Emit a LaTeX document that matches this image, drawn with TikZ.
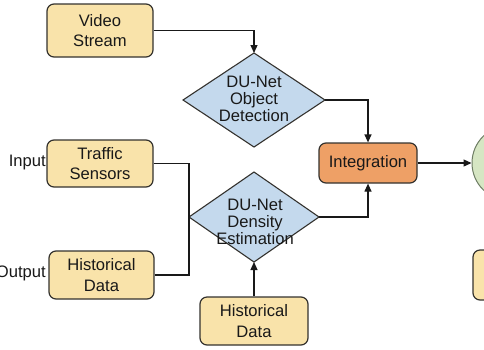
\documentclass[tikz,border=0pt]{standalone}
\usepackage{fontspec}
\setmainfont{Liberation Sans}
\usetikzlibrary{shapes.geometric,arrows.meta}
\definecolor{boxfill}{RGB}{249,227,170}
\definecolor{edge}{RGB}{52,50,46}
\definecolor{diafill}{RGB}{196,217,237}
\definecolor{orangefill}{RGB}{238,160,102}
\definecolor{greenfill}{RGB}{214,230,195}
\definecolor{greenedge}{RGB}{110,125,100}
\definecolor{ink}{RGB}{25,25,25}
\begin{document}
\begin{tikzpicture}[x=1pt,y=-1pt,
  box/.style={draw=edge, fill=boxfill, line width=1.2pt, rounded corners=7pt,
    inner sep=0pt, align=center, text=ink, font=\fontsize{16.6}{20.5}\selectfont},
  dia/.style={diamond, draw=edge, fill=diafill, line width=1.1pt, inner sep=0pt, outer sep=0pt},
  diatext/.style={align=center, text=ink, inner sep=0pt, font=\fontsize{16.6}{17}\selectfont},
  sidetext/.style={anchor=east, text=ink, inner sep=0pt, font=\fontsize{16.6}{20}\selectfont},
  link/.style={draw=ink, line width=1.2pt},
  arrow/.style={link, -{Triangle[length=8pt,width=7pt]}}]
\useasboundingbox (0,0) rectangle (484,349);
\clip (0,0) rectangle (484,349);

% input boxes
\node[box, minimum width=106pt, minimum height=53pt] (vs) at (100,30.5) {Video\\Stream};
\node[box, minimum width=106pt, minimum height=47pt] (ts) at (100,163.5) {Traffic\\Sensors};
\node[box, minimum width=105pt, minimum height=48pt] (hd1) at (101.5,275) {Historical\\Data};
\node[box, minimum width=108pt, minimum height=48pt] (hd2) at (254,321) {Historical\\Data};

% side labels
\node[sidetext] (inlbl) at (46,163) {Input};
\node[sidetext] (outlbl) at (46,273) {Output};

% DU-Net stages
\node[dia, minimum width=142pt, minimum height=94pt] (d1) at (254,100) {};
\node[diatext] (d1t) at (254,99) {DU-Net\\Object\\Detection};
\node[dia, minimum width=130pt, minimum height=90pt] (d2) at (254,217) {};
\node[diatext] (d2t) at (255,222) {DU-Net\\Density\\Estimation};

% integration and outputs
\node[box, fill=orangefill, minimum width=98pt, minimum height=40pt] (integ) at (368,163) {Integration};
\node[circle, draw=greenedge, fill=greenfill, line width=1pt, minimum size=75pt, inner sep=0pt] (res) at (509.5,163) {};
\node[box, minimum width=94pt, minimum height=50pt] (rbox) at (520,275) {};

% connectors
\draw[arrow] (vs.east) -| (d1.north);
\draw[arrow] (d1.east) -| (integ.north);
\draw[arrow] (d2.east) -| (integ.south);
\draw[arrow] (integ.east) -- (res.west);
\draw[link] (ts.east) -| (d2.west);
\draw[link] (hd1.east) -| (d2.west);
\draw[arrow] (hd2.north) -- (d2.south);
\end{tikzpicture}
\end{document}
